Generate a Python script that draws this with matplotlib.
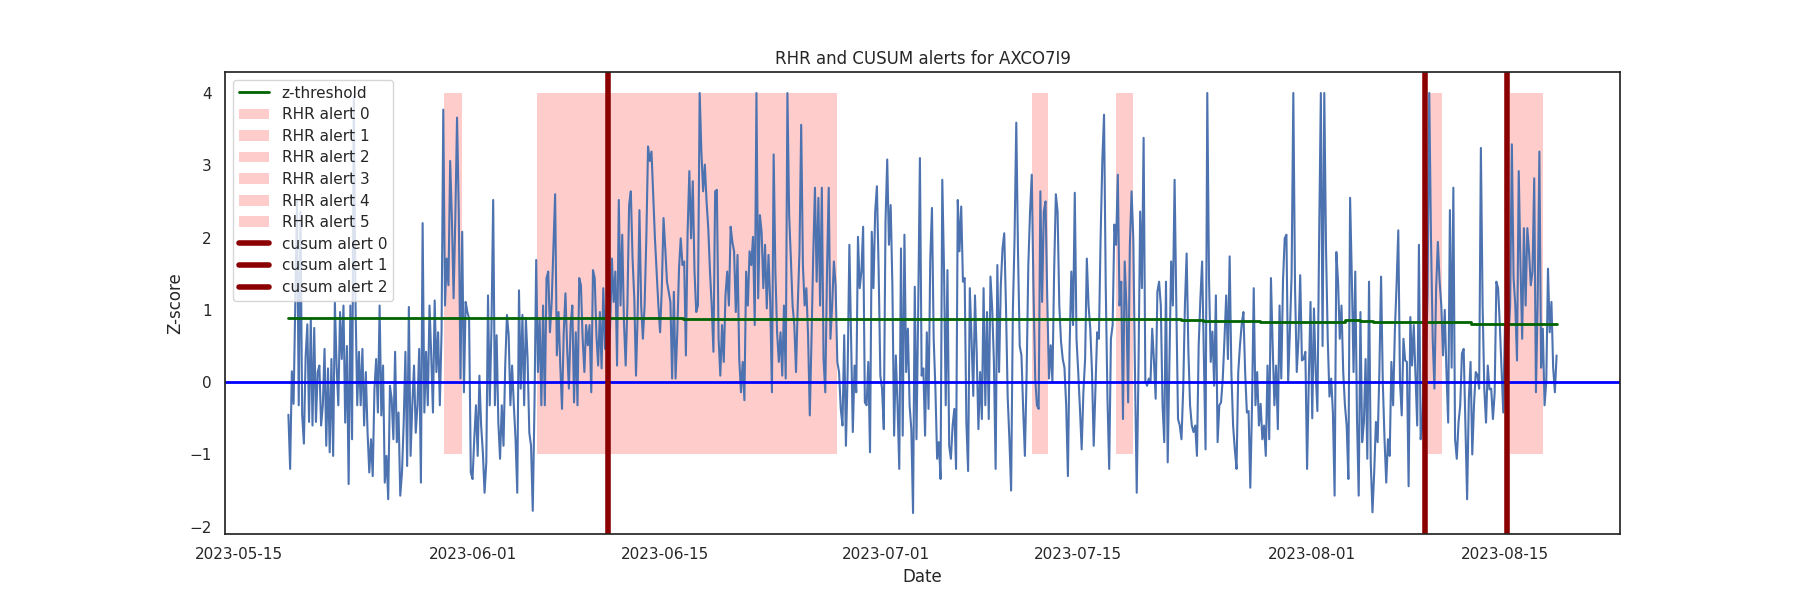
import matplotlib
matplotlib.use("Agg")
import matplotlib.pyplot as plt
import seaborn as sns
import pandas as pd
import numpy as np

# ---------------- data ----------------
series_start = "2023-05-18 15:00"
series_freq = "3h"

# z-scores, 3-hourly (8 values per row = one day starting 15:00)
z_may = [
    -0.45, -1.2, 0.15, -0.3, 1.06, 2.5, -0.32, 2.36,
    -0.45, -0.85, 0.35, 0.8, -0.55, 0.88, -0.6, 0.75,
    -0.55, 0.14, 0.23, -0.6, -0.32, 0.46, -0.88, 0.19,
    -0.97, 0.32, -1.02, 1.1, 0.23, -0.32, 0.97, 0.32,
    1.06, -0.56, 0.5, -1.41, 1.06, -0.79, 3.95, 1.1,
    -0.32, 0.42, -0.32, 0.46, -0.6, 0.14, -0.7, -1.25,
    -0.79, -1.3, -0.09, 0.32, -0.42, 1.06, -0.46, 0.23,
    -1.39, -1.02, -1.62, -0.05, -0.23, -0.79, 0.42, -0.83,
    -0.42, -1.57, -1.25, -0.56, 0.42, -1.16, 1.04, -1.02,
    -0.32, 0.23, -0.7, -0.32, 0.46, -1.39, 2.2, -0.42,
    0.42, -0.32, 1.06, 0.37, -0.42, 1.13, 0.14, 0.69,
    -0.32, 0.69, 3.77, 1.06, 1.71, 1.34, 3.06, 2.27,
    1.16, 2.27, 3.66, 2.36, 0.05, 2.08, -0.14, 1.11,
    0.97, 0.88, -1.25, -1.34, -0.79, -0.32, -1.02, 0.09,
]
z_june = [
    -0.6, -0.97, -1.53, -1.11, 1.2, -0.32, 0.74, 2.52,
    -0.32, 0.65, -0.56, -1.06, -0.32, -0.88, 0.23, 0.93,
    0.65, -0.32, 0.23, -0.32, -0.79, -1.53, 1.27, -0.09,
    0.93, -0.32, 0.88, 0.32, -0.7, -0.88, -1.78, -0.32,
    1.69, 0.14, 0.88, -0.32, 1.06, -0.32, 1.44, 1.53,
    0.69, 1.11, 1.85, 2.6, 0.37, 0.97, 0.23, -0.37,
    0.69, 1.23, 0.46, -0.09, 0.79, 1.06, -0.28, 0.69,
    -0.32, 1.44, 1.34, 0.6, 0.14, 0.79, 0.51, 0.79,
    -0.14, 1.55, 1.44, 0.65, 0.23, 0.97, 0.19, 1.3,
    0.46, 1.06, 0.28, 0.79, 1.71, 1.11, 1.53, 0.23,
    2.52, 1.06, 2.04, 0.83, 0.23, 1.06, 2.45, 2.64,
    1.71, 1.16, 0.09, 0.97, 2.38, 1.06, 0.6, 1.06,
    1.99, 3.26, 3.06, 3.19, 2.6, 1.99, 1.53, 1.06,
    0.69, 1.3, 2.27, 1.85, 1.39, 1.25, 1.11, 0.05,
    1.25, 0.05, 0.69, 1.57, 1.99, 1.62, 1.67, 0.37,
    2.08, 2.92, 1.99, 2.78, 1.53, 0.97, 1.06, 4.0,
    3.19, 2.64, 3.01, 2.5, 2.13, 1.53, 1.06, 0.42,
    2.64, 2.66, 0.6, 0.09, 0.79, 0.28, 1.2, 1.53,
    1.06, 2.15, 1.94, 1.81, 0.97, 1.76, 0.32, -0.14,
    0.28, -0.25, 1.53, 1.06, 1.81, 1.62, 2.01, 0.79,
    4.0, 1.16, 2.31, 2.08, 1.3, 1.9, 1.02, 1.76,
    1.11, -0.14, 3.15, 1.53, 0.69, 0.28, 0.69, 0.09,
    1.06, 0.05, 4.0, 2.31, 1.71, 1.06, 0.79, 0.14,
    1.06, 1.8, 3.56, 1.62, 1.06, 1.3, 0.65, -0.46,
    0.6, 1.76, 2.69, 1.39, 2.55, 1.06, 2.69, 0.32,
    -0.14, 1.53, 2.69, 0.6, 1.06, 1.67, 1.34, 0.28,
    0.14, -0.37, -0.6, 0.65, -0.88, 0.14, 1.9, 0.6,
    -0.69, 0.23, -0.14, 2.01, 1.3, 1.53, 2.15, -0.28,
    -0.32, 0.28, -0.97, 2.08, 1.3, 2.36, 2.71, 1.57,
    0.09, -0.09, -0.65, 2.22, 3.08, 1.9, 2.45, 1.34,
]
z_july = [
    -0.74, 0.37, -0.32, -1.2, 1.85, -0.74, 2.04, 0.14,
    0.74, -0.32, -0.65, -1.81, 1.32, -0.79, 1.0, 3.1,
    0.09, 0.19, -0.74, 0.69, -0.37, 1.69, 2.41, 0.6,
    -0.09, -1.06, -0.83, -1.34, 2.8, 1.57, -0.32, 1.55,
    -0.88, -1.06, -0.6, -0.37, -1.2, 2.52, 1.81, 2.43,
    1.39, 1.44, -0.56, -1.23, 1.3, 0.6, -0.19, 1.2,
    0.4, -0.65, 0.14, -0.51, 1.3, -0.32, 0.97, -0.51,
    1.46, 1.02, 0.28, -1.2, 1.62, 0.14, 1.34, 1.85,
    2.06, 1.06, -0.2, -0.79, -1.5, 0.97, 1.99, 3.59,
    1.81, 0.5, 0.37, -0.37, -1.02, 0.1, 1.62, 2.36,
    2.87, 1.28, 0.05, -0.32, -0.37, 2.64, 1.11, 2.36,
    2.5, 1.16, 0.05, 0.51, 0.0, 1.53, 2.6, 2.36,
    1.06, 0.56, 0.32, 0.2, -0.32, -1.3, 0.5, 1.53,
    0.79, 2.62, 0.6, 0.14, -0.37, -0.93, -0.14, 0.32,
    1.71, 1.06, 0.74, 0.14, -0.88, -0.09, 0.69, 0.6,
    1.99, 3.06, 3.7, 1.3, -0.23, -1.2, 0.6, 0.79,
    2.18, 1.9, 2.87, 1.06, 1.39, -0.51, 1.67, 1.06,
    -0.28, 1.9, 2.64, 1.99, 0.1, -1.53, 0.14, 2.36,
    1.3, 3.38, 0.02, -0.05, 0.05, 0.0, 0.74, 0.3,
    -0.23, 1.25, 1.39, 1.06, -0.32, -0.83, 1.39, -1.11,
    0.28, 1.67, 1.06, 2.8, 1.06, -0.51, -0.6, -0.79,
    -0.1, 1.06, 1.78, 0.45, -0.32, -0.6, -0.69, -0.6,
    -1.02, 0.51, 1.16, 1.67, 0.37, -0.93, 4.0, 1.44,
    0.28, 0.7, -0.05, 1.2, -0.83, -0.32, -0.28, 0.05,
    0.6, 1.2, 0.32, 1.74, 0.14, -0.6, -0.93, -1.2,
    0.14, 0.51, 0.8, 0.97, 0.14, -0.42, -0.4, -1.46,
    -0.32, 1.3, -0.32, 0.14, -0.6, -0.3, -0.79, -0.6,
    -1.02, 0.23, -0.79, 1.44, 0.5, -0.32, 0.23, -0.65,
    1.06, 0.05, 1.4, 1.99, 2.04, 0.0, 0.69, 1.48,
    4.0, 1.3, 0.14, 0.6, 1.48, 0.3, 0.32, 0.42,
    -1.2, 0.05, 1.11, -0.5, 1.02, 0.14, -0.4, 1.99,
]
z_august = [
    4.0, 0.5, 4.0, 1.85, 0.6, -0.2, 0.05, -0.42,
    -1.57, 1.8, 1.39, 0.6, 1.06, 0.14, -0.32, -0.6,
    -1.34, 2.55, 1.45, 0.14, 1.53, -0.5, -1.57, 0.97,
    -0.83, -0.56, 0.32, -1.06, 1.39, -1.11, -1.8, -1.25,
    -0.55, -0.83, 0.14, 1.46, 0.0, -0.79, -1.39, -0.79,
    -1.02, 0.28, -0.32, 0.7, 1.34, 2.1, 0.0, -0.46,
    0.6, 0.3, 0.28, -1.44, 0.9, 0.23, 0.79, 0.1,
    -0.6, 1.9, -0.79, -0.6, 0.4, 0.23, 1.2, 4.0,
    1.99, 0.6, -0.09, 1.3, 1.94, 1.4, 1.06, 0.37,
    1.0, 0.14, -0.56, 2.38, 0.2, 2.69, -0.79, -1.06,
    -0.56, -0.32, 0.4, 0.46, -0.6, -1.62, -0.23, 0.28,
    -1.0, -0.32, 0.14, 0.1, -0.09, 3.24, 1.06, -0.1,
    -0.56, 0.23, -0.1, -0.09, -0.51, -0.15, 1.39, 1.3,
    0.79, 0.2, -0.42, 0.79, 0.14, 0.6, 1.06, 3.29,
    1.44, 1.06, 0.3, 2.92, 1.62, 0.6, 2.13, 1.06,
    2.13, 1.8, 1.34, 1.53, 2.82, -0.14, 1.11, 3.19,
    0.2, 0.74, -0.32, 0.0, 1.57, 0.69, 1.11, 0.2,
    -0.14, 0.37,
]

# z-threshold (step changes)
thr_dates = ["2023-05-18 15:00", "2023-06-16 07:00", "2023-07-22 12:00",
             "2023-07-24 02:00", "2023-07-28 05:00", "2023-08-03 09:00",
             "2023-08-04 11:00", "2023-08-05 10:00", "2023-08-12 13:00"]
thr_values = [0.893, 0.873, 0.866, 0.852, 0.838, 0.858, 0.847, 0.826, 0.81]

# RHR alert windows
rhr_starts = ["2023-05-29 22:00", "2023-06-05 16:00", "2023-07-11 15:00",
              "2023-07-17 17:00", "2023-08-09 10:00", "2023-08-15 09:00"]
rhr_ends = ["2023-05-31 05:00", "2023-06-27 11:00", "2023-07-12 20:00",
            "2023-07-19 00:00", "2023-08-10 11:00", "2023-08-17 18:00"]
rhr_low, rhr_high = -1, 4

# CUSUM alerts
cusum_dates = ["2023-06-10 21:00", "2023-08-09 05:00", "2023-08-15 04:00"]

title = "RHR and CUSUM alerts for AXCO7I9"

# ---------------- plot ----------------
sns.set_theme(style="white")
plt.rcParams["font.family"] = ["DejaVu Sans"]

z = z_may + z_june + z_july + z_august
t = pd.date_range(series_start, periods=len(z), freq=series_freq)

fig, ax = plt.subplots(figsize=(18, 6), dpi=100)
ax.plot(t, z, color="#4c72b0", linewidth=1.5)

thr_t = list(pd.to_datetime(thr_dates)) + [t[-1]]
thr_v = thr_values + [thr_values[-1]]
ax.plot(thr_t, thr_v, color="darkgreen", linewidth=2, drawstyle="steps-post",
        label="z-threshold")

for i, (s, e) in enumerate(zip(rhr_starts, rhr_ends)):
    ax.fill_between(pd.to_datetime([s, e]), rhr_low, rhr_high, color="red",
                    alpha=0.2, linewidth=0, label=f"RHR alert {i}")

ax.axhline(0, color="blue", linewidth=2)

for i, d in enumerate(cusum_dates):
    ax.axvline(pd.Timestamp(d), color="darkred", linewidth=4,
               label=f"cusum alert {i}")

ax.set_title(title)
ax.set_xlabel("Date")
ax.set_ylabel("Z-score")
ax.legend(loc="upper left", labelspacing=0.43)

fig.savefig("out.png", dpi=100)
